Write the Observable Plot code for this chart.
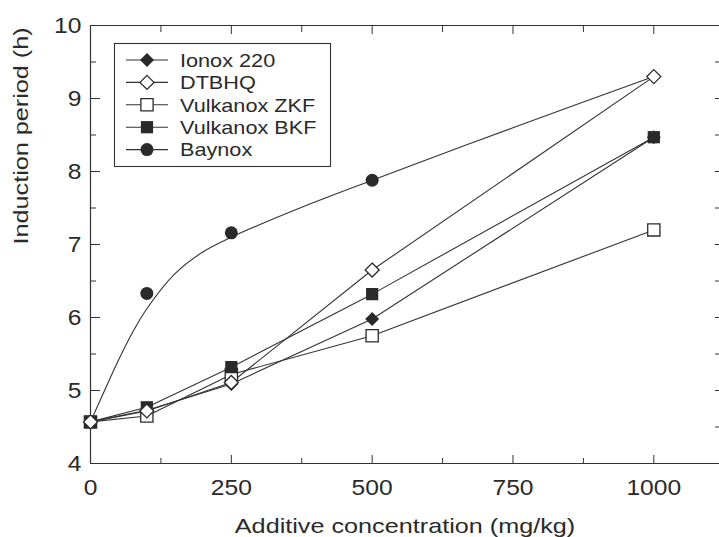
<!DOCTYPE html>
<html><head><meta charset="utf-8">
<script src="https://cdn.jsdelivr.net/npm/d3@7"></script>
<script src="https://cdn.jsdelivr.net/npm/@observablehq/plot@0.6"></script>
<style>html,body{margin:0;padding:0;background:#fff;} #chart svg{display:block;}</style>
</head><body><div id="chart"></div>
<script>
// ---- data ----
const concentrations = [0, 100, 250, 500, 1000];          // mg/kg
const ionox220    = [4.57, 4.73, 5.09, 5.98, 8.47];
const dtbhq       = [4.57, 4.72, 5.11, 6.65, 9.30];
const vulkanoxZKF = [4.57, 4.65, 5.22, 5.75, 7.20];
const vulkanoxBKF = [4.57, 4.77, 5.32, 6.32, 8.47];
const baynoxConc  = [0, 100, 250, 500];
const baynox      = [4.57, 6.33, 7.16, 7.88];
// smooth fitted Baynox curve
const baynoxFitConc = [0, 25, 50, 75, 100, 150, 200, 250, 375, 500, 750, 1000];
const baynoxFit     = [4.57, 5.0, 5.42, 5.8, 6.12, 6.6, 6.9, 7.1, 7.51, 7.88, 8.6, 9.3];

const seriesNames = ["Ionox 220", "DTBHQ", "Vulkanox ZKF", "Vulkanox BKF", "Baynox"];
const xMajorTicks = [0, 250, 500, 750, 1000];
const xMinorTicks = [125, 375, 625, 875];
const yMajorTicks = [4, 5, 6, 7, 8, 9, 10];
const yMinorTicks = [4.5, 5.5, 6.5, 7.5, 8.5, 9.5];
const xTitle = "Additive concentration (mg/kg)";
const yTitle = "Induction period (h)";

// ---- tables ----
const toRows = (xs, ys) => xs.map((c, i) => ({conc: c, period: ys[i]}));
const ionoxRows = toRows(concentrations, ionox220);
const dtbhqRows = toRows(concentrations, dtbhq);
const zkfRows   = toRows(concentrations, vulkanoxZKF);
const bkfRows   = toRows(concentrations, vulkanoxBKF);
const baynoxRows = toRows(baynoxConc, baynox);
const baynoxFitRows = toRows(baynoxFitConc, baynoxFit);

const ink = "#2a2a2a";
const lineStyle = {x: "conc", y: "period", stroke: "#333", strokeWidth: 1.1};
const font = "'Liberation Sans', Arial, Helvetica, sans-serif";

const styleMap = {
  "Ionox 220":    {symbol: "diamond2", r: 6.3, fill: ink},
  "DTBHQ":        {symbol: "diamond2", r: 6.3, fill: "white", stroke: ink, strokeWidth: 1.3},
  "Vulkanox ZKF": {symbol: "square", r: 6.9, fill: "white", stroke: ink, strokeWidth: 1.3},
  "Vulkanox BKF": {symbol: "square", r: 6.9, fill: ink},
  "Baynox":       {symbol: "circle", r: 6.5, fill: ink}
};

const chart = Plot.plot({
  width: 719,
  height: 537,
  marginLeft: 90,
  marginRight: 0,
  marginTop: 25,
  marginBottom: 74,
  style: {fontFamily: font, color: ink, background: "white"},
  x: {domain: [0, 1116.6]},
  y: {domain: [4, 10]},
  marks: [
    // frame lines (left, bottom, top)
    Plot.ruleX([0], {stroke: "#333", strokeWidth: 1.2}),
    Plot.ruleY([4, 10], {stroke: "#333", strokeWidth: 1.2}),
    // inward ticks
    Plot.axisX({anchor: "bottom", ticks: xMajorTicks, tickSize: -8, fill: "none", stroke: "#333"}),
    Plot.axisX({anchor: "bottom", ticks: xMinorTicks, tickSize: -5, fill: "none", stroke: "#333"}),
    Plot.axisX({anchor: "top", ticks: xMajorTicks, tickSize: -8, fill: "none", stroke: "#333"}),
    Plot.axisX({anchor: "top", ticks: xMinorTicks, tickSize: -6, fill: "none", stroke: "#333"}),
    Plot.axisY({anchor: "left", ticks: yMajorTicks, tickSize: -10, fill: "none", stroke: "#333"}),
    Plot.axisY({anchor: "left", ticks: yMinorTicks, tickSize: -6, fill: "none", stroke: "#333"}),
    Plot.axisY({anchor: "right", ticks: yMajorTicks.concat(yMinorTicks), tickSize: -5, fill: "none", stroke: "#333"}),
    // tick labels
    Plot.axisX({anchor: "bottom", ticks: xMajorTicks, tickSize: 0, tickPadding: 16, fontSize: 22, label: null, tickFormat: d => String(d)}),
    Plot.axisY({anchor: "left", ticks: yMajorTicks, tickSize: 0, tickPadding: 9, fontSize: 22, label: null, tickFormat: d => String(d)}),
    // axis titles
    Plot.text([xTitle], {text: d => d, frameAnchor: "bottom", dy: 69, lineAnchor: "bottom", fontSize: 21, fill: ink}),
    Plot.text([yTitle], {text: d => d, frameAnchor: "left", dx: -77, rotate: -90, lineAnchor: "top", fontSize: 21, fill: ink}),
    // lines
    Plot.line(baynoxFitRows, {...lineStyle, curve: "catmull-rom"}),
    Plot.line(zkfRows, lineStyle),
    Plot.line(bkfRows, lineStyle),
    Plot.line(ionoxRows, lineStyle),
    Plot.line(dtbhqRows, lineStyle),
    // markers
    Plot.dot(baynoxRows, {x: "conc", y: "period", ...styleMap["Baynox"]}),
    Plot.dot(zkfRows, {x: "conc", y: "period", ...styleMap["Vulkanox ZKF"]}),
    Plot.dot(bkfRows, {x: "conc", y: "period", ...styleMap["Vulkanox BKF"]}),
    Plot.dot(ionoxRows, {x: "conc", y: "period", ...styleMap["Ionox 220"]}),
    Plot.dot(dtbhqRows, {x: "conc", y: "period", ...styleMap["DTBHQ"]})
  ]
});

document.getElementById("chart").appendChild(chart);

// ---- legend box (inside plot, upper left) ----
const svg = d3.select(chart);
const symbolTypes = {diamond2: d3.symbolDiamond2, square: d3.symbolSquare, circle: d3.symbolCircle};
const lg = svg.append("g").attr("class", "legend").attr("text-anchor", "start");
lg.append("rect").attr("x", 114.5).attr("y", 43.5).attr("width", 216).attr("height", 123)
  .attr("fill", "white").attr("stroke", "#333").attr("stroke-width", 1.1);
seriesNames.forEach((name, i) => {
  const st = styleMap[name];
  const g = lg.append("g").attr("transform", `translate(0,${60 + i * 22.4})`);
  g.append("line").attr("x1", 126).attr("x2", 168).attr("y1", 0).attr("y2", 0)
    .attr("stroke", "#333").attr("stroke-width", 1.1);
  g.append("path").attr("transform", "translate(147,0)")
    .attr("d", d3.symbol(symbolTypes[st.symbol], Math.PI * st.r * st.r)())
    .attr("fill", st.fill).attr("stroke", st.stroke || "none").attr("stroke-width", st.strokeWidth || 0);
  g.append("text").attr("x", 180).attr("y", 0).attr("dy", "0.36em").attr("text-anchor", "start")
    .attr("font-size", 19).attr("font-family", font).attr("fill", ink).text(name);
});

// widen glyphs slightly to match the reference lettering
function stretch(sel, f) {
  sel.each(function () {
    const L = this.getComputedTextLength();
    if (L > 0) { this.setAttribute("textLength", (L * f).toFixed(1)); this.setAttribute("lengthAdjust", "spacingAndGlyphs"); }
  });
}
stretch(svg.selectAll('g[aria-label="x-axis tick label"] text, g[aria-label="y-axis tick label"] text'), 1.12);
stretch(svg.selectAll('g[aria-label="text"] text'), 1.2);
stretch(lg.selectAll("text"), 1.14);
</script>
</body></html>
